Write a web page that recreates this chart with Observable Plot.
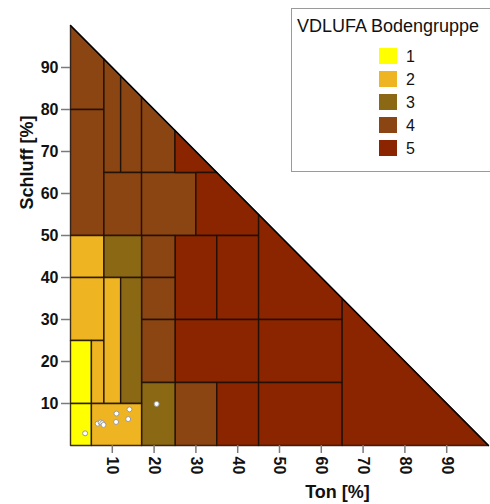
<!DOCTYPE html>
<html>
<head>
<meta charset="utf-8">
<script src="https://cdn.jsdelivr.net/npm/d3@7"></script>
<script src="https://cdn.jsdelivr.net/npm/@observablehq/plot@0.6"></script>
<style>
html, body { margin: 0; padding: 0; overflow: hidden; background: #fff; }
#wrap { position: relative; width: 490px; height: 504px; }
#legend { position: absolute; left: 291px; top: 8px; width: 230px; height: 164px; border: 1px solid #9a9a9a; box-sizing: border-box; background: #fff; font-family: "Liberation Sans", Arial, sans-serif; color: #111; }
#legend .title { position: absolute; left: 5px; top: 6.5px; font-size: 18px; line-height: 20px; white-space: nowrap; }
#legend .sw { position: absolute; width: 18px; height: 16px; }
#legend .lab { position: absolute; font-size: 16px; line-height: 16px; }
</style>
</head>
<body>
<div id="wrap"></div>
<script>
// Legend groups and colours
const groups = [1, 2, 3, 4, 5];
const groupColors = ["#FFFF00", "#EEB422", "#8B6914", "#8B4513", "#8B2500"];
const legendTitle = "VDLUFA Bodengruppe";

// Texture-class regions: group per region, vertices as [Ton %, Schluff %]
const regionGroup = [4, 4, 4, 4, 4, 4, 4, 5, 5, 5, 5, 5, 5, 5, 4, 5, 5, 5, 4, 4, 4, 3, 2, 3, 2, 1, 1, 2, 2, 3, 2];
const regionVertices = [
  [[0, 80], [0, 100], [8, 92], [8, 80]],
  [[0, 50], [0, 80], [8, 80], [8, 50]],
  [[8, 65], [8, 92], [12, 88], [12, 65]],
  [[12, 65], [12, 88], [17, 83], [17, 65]],
  [[17, 65], [17, 83], [25, 75], [25, 65]],
  [[8, 50], [8, 65], [17, 65], [17, 50]],
  [[17, 50], [17, 65], [30, 65], [30, 50]],
  [[25, 65], [25, 75], [35, 65]],
  [[30, 50], [30, 65], [35, 65], [45, 55], [45, 50]],
  [[25, 30], [25, 50], [35, 50], [35, 30]],
  [[35, 30], [35, 50], [45, 50], [45, 30]],
  [[45, 30], [45, 55], [65, 35], [65, 30]],
  [[25, 15], [25, 30], [45, 30], [45, 15]],
  [[45, 15], [45, 30], [65, 30], [65, 15]],
  [[25, 0], [25, 15], [35, 15], [35, 0]],
  [[35, 0], [35, 15], [45, 15], [45, 0]],
  [[45, 0], [45, 15], [65, 15], [65, 0]],
  [[65, 0], [65, 35], [100, 0]],
  [[17, 40], [17, 50], [25, 50], [25, 40]],
  [[17, 30], [17, 40], [25, 40], [25, 30]],
  [[17, 15], [17, 30], [25, 30], [25, 15]],
  [[17, 0], [17, 15], [25, 15], [25, 0]],
  [[0, 40], [0, 50], [8, 50], [8, 40]],
  [[8, 40], [8, 50], [17, 50], [17, 40]],
  [[0, 25], [0, 40], [8, 40], [8, 25]],
  [[0, 10], [0, 25], [5, 25], [5, 10]],
  [[0, 0], [0, 10], [5, 10], [5, 0]],
  [[5, 10], [5, 25], [8, 25], [8, 10]],
  [[8, 10], [8, 40], [12, 40], [12, 10]],
  [[12, 10], [12, 40], [17, 40], [17, 10]],
  [[5, 0], [5, 10], [17, 10], [17, 0]]
];

// Triangle hypotenuse
const hypTon = [0, 100];
const hypSchluff = [100, 0];

// Sample points
const pointTon = [3.5, 11.0, 14.1, 10.9, 13.8, 6.5, 7.2, 7.6, 7.9, 20.6];
const pointSchluff = [2.9, 7.6, 8.6, 5.6, 6.3, 5.2, 5.5, 5.3, 4.9, 9.9];

// Axis ticks and labels
const tonTicks = [10, 20, 30, 40, 50, 60, 70, 80, 90];
const schluffTicks = [10, 20, 30, 40, 50, 60, 70, 80, 90];
const xLabel = "Ton [%]";
const yLabel = "Schluff [%]";

const rows = regionVertices.flatMap((pts, i) =>
  pts.map(([ton, schluff]) => ({ id: i, group: regionGroup[i], ton, schluff })));
const hyp = hypTon.map((t, i) => ({ ton: t, schluff: hypSchluff[i] }));
const points = pointTon.map((t, i) => ({ ton: t, schluff: pointSchluff[i] }));

const font = "'Liberation Sans', Arial, sans-serif";

const plot = Plot.plot({
  width: 490,
  height: 504,
  marginLeft: 70,
  marginRight: 2,
  marginTop: 25,
  marginBottom: 59,
  x: { domain: [0, 100] },
  y: { domain: [0, 100] },
  color: { type: "ordinal", domain: groups, range: groupColors },
  style: { fontFamily: font, fontSize: "16px", fontWeight: "bold", background: "#fff", color: "#111" },
  marks: [
    Plot.line(rows, { x: "ton", y: "schluff", z: "id", fill: "group", stroke: "#1a0d05", strokeWidth: 1.4, strokeOpacity: 0.85, curve: "linear-closed" }),
    Plot.line(hyp, { x: "ton", y: "schluff", stroke: "#000", strokeWidth: 1.3 }),
    Plot.dot(points, { x: "ton", y: "schluff", r: 2.5, fill: "#fff", stroke: "#9a9a9a", strokeWidth: 1 }),
    Plot.axisX({ ticks: tonTicks, tickSize: 8, tickPadding: 3, tickRotate: 90, label: null, stroke: "#7a7a7a", strokeWidth: 1.5 }),
    Plot.axisY({ ticks: schluffTicks, tickSize: 9, tickPadding: 3, label: null, stroke: "#7a7a7a", strokeWidth: 1.5 }),
    Plot.text([xLabel], { text: d => d, frameAnchor: "bottom", dx: 58, dy: 47, textAnchor: "middle", lineAnchor: "middle", fontSize: 18, fontWeight: "bold" }),
    Plot.text([yLabel], { text: d => d, frameAnchor: "top-left", dx: -43, dy: 137, textAnchor: "middle", lineAnchor: "middle", rotate: -90, fontSize: 18, fontWeight: "bold" })
  ]
});

const wrap = document.getElementById("wrap");
wrap.appendChild(plot);

// Legend box built from the colour scale
const colorScale = plot.scale("color");
const legend = document.createElement("div");
legend.id = "legend";
const title = document.createElement("div");
title.className = "title";
title.textContent = legendTitle;
legend.appendChild(title);
colorScale.domain.forEach((g, i) => {
  const top = 38.7 + i * 23.1;
  const sw = document.createElement("div");
  sw.className = "sw";
  sw.style.left = "87px";
  sw.style.top = top + "px";
  sw.style.background = colorScale.range[i];
  legend.appendChild(sw);
  const lab = document.createElement("div");
  lab.className = "lab";
  lab.style.left = "114px";
  lab.style.top = (top + 1) + "px";
  lab.textContent = g;
  legend.appendChild(lab);
});
wrap.appendChild(legend);
</script>
</body>
</html>
